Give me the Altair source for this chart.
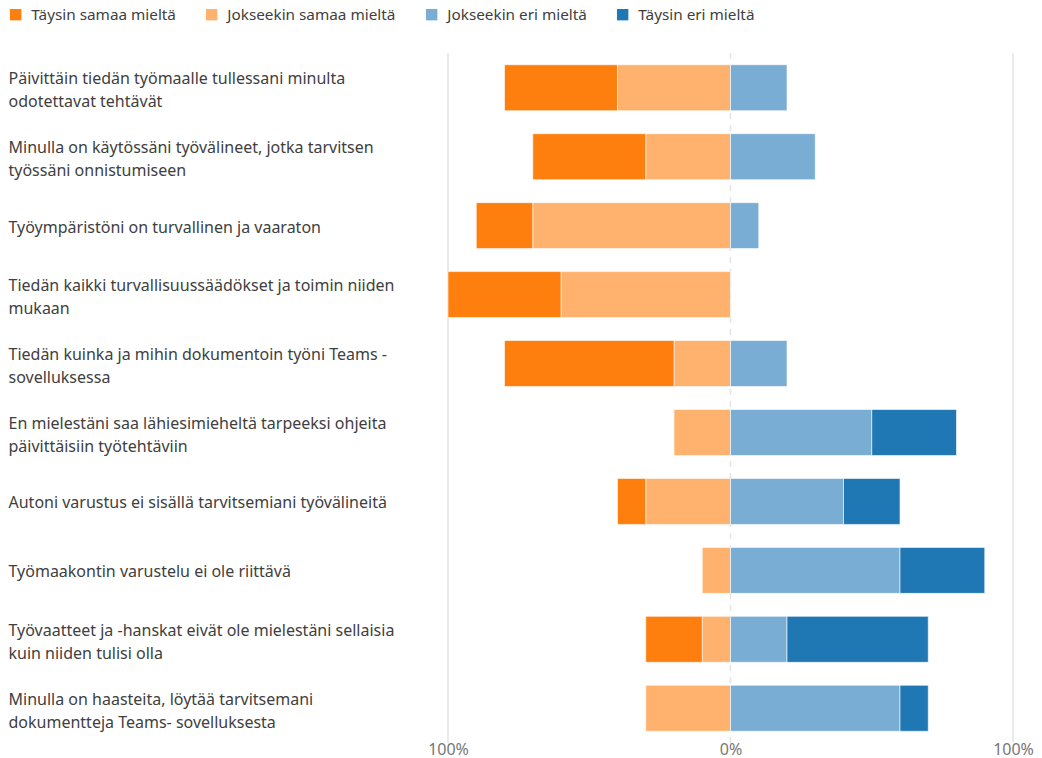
import altair as alt
import pandas as pd

questions = [
    "Päivittäin tiedän työmaalle tullessani minulta|odotettavat tehtävät",
    "Minulla on käytössäni työvälineet, jotka tarvitsen|työssäni onnistumiseen",
    "Työympäristöni on turvallinen ja vaaraton",
    "Tiedän kaikki turvallisuussäädökset ja toimin niiden|mukaan",
    "Tiedän kuinka ja mihin dokumentoin työni Teams -|sovelluksessa",
    "En mielestäni saa lähiesimieheltä tarpeeksi ohjeita|päivittäisiin työtehtäviin",
    "Autoni varustus ei sisällä tarvitsemiani työvälineitä",
    "Työmaakontin varustelu ei ole riittävä",
    "Työvaatteet ja -hanskat eivät ole mielestäni sellaisia|kuin niiden tulisi olla",
    "Minulla on haasteita, löytää tarvitsemani|dokumentteja Teams- sovelluksesta",
]
categories = ["Täysin samaa mieltä", "Jokseekin samaa mieltä", "Jokseekin eri mieltä", "Täysin eri mieltä"]
taysin_samaa = [40, 40, 20, 40, 60, 0, 10, 0, 20, 0]
jokseekin_samaa = [40, 30, 70, 60, 20, 20, 30, 10, 10, 30]
jokseekin_eri = [20, 30, 10, 0, 20, 50, 40, 60, 20, 60]
taysin_eri = [0, 0, 0, 0, 0, 30, 20, 30, 50, 10]
colors = ["#ff7f0e", "#ffb26e", "#7aadd3", "#1f77b4"]

rows = []
for i, q in enumerate(questions):
    js, ts, je, te = jokseekin_samaa[i], taysin_samaa[i], jokseekin_eri[i], taysin_eri[i]
    rows.append({"q": q, "cat": categories[1], "x": -js, "x2": 0})
    rows.append({"q": q, "cat": categories[0], "x": -js - ts, "x2": -js})
    rows.append({"q": q, "cat": categories[2], "x": 0, "x2": je})
    rows.append({"q": q, "cat": categories[3], "x": je, "x2": je + te})
df = pd.DataFrame(rows)
df = df[df["x"] != df["x2"]]

FONT = "Noto Sans"
xscale = alt.Scale(domain=[-100, 100], nice=False)

rules_solid = alt.Chart(pd.DataFrame({"v": [-100, 100]})).mark_rule(
    color="#e3e3e3", strokeWidth=1.5
).encode(x=alt.X("v:Q", scale=xscale))
rule_zero = alt.Chart(pd.DataFrame({"v": [0]})).mark_rule(
    color="#e3e3e3", strokeWidth=1.5, strokeDash=[6, 6]
).encode(x=alt.X("v:Q", scale=xscale))

bars = alt.Chart(df).mark_bar(stroke="white", strokeWidth=0.6).encode(
    y=alt.Y("q:N", sort=questions, title=None,
            scale=alt.Scale(paddingInner=0.333, paddingOuter=0.17),
            axis=alt.Axis(domain=False, ticks=False, labelAlign="left", labelPadding=440,
                          labelLimit=430, labelFontSize=16, labelColor="#404040",
                          labelFont=FONT, labelLineHeight=23, labelBaseline="middle",
                          labelOffset={"condition": {"test": "indexof(datum.label, '|') >= 0",
                                                     "value": -8.5}, "value": 2},
                          labelExpr="split(datum.label, '|')")),
    x=alt.X("x:Q", scale=xscale, title=None,
            axis=alt.Axis(values=[-100, 0, 100], grid=False, domain=False, ticks=False,
                          labelExpr="abs(datum.value) + '%'", labelFontSize=16,
                          labelColor="#777777", labelFont=FONT, labelPadding=-2,
                          labelFlush=False)),
    x2="x2:Q",
    color=alt.Color("cat:N", scale=alt.Scale(domain=categories, range=colors),
                    legend=alt.Legend(title=None, orient="none", legendX=-440, legendY=-46,
                                      direction="horizontal", columns=4, symbolType="square",
                                      symbolSize=130, symbolStrokeWidth=0, labelFontSize=15.3,
                                      labelColor="#404040", labelFont=FONT, columnPadding=28,
                                      labelOffset=8, labelLimit=300)),
)

chart = alt.layer(rules_solid, rule_zero, bars).properties(
    width=565, height=690,
    autosize=alt.AutoSizeParams(type="none"),
    padding={"left": 448, "top": 53, "right": 29, "bottom": 15},
).configure_view(stroke=None)

chart.save("out.html", embed_options={"renderer": "svg", "actions": False})
